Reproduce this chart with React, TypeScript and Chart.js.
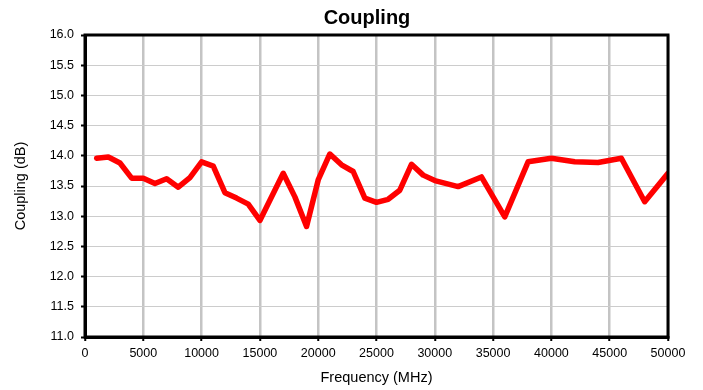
import React, { useEffect, useRef } from "react";
import { Chart, registerables } from "chart.js";

Chart.register(...registerables);

const frequencies = [
  1000, 2000, 3000, 4000, 5000, 6000, 7000, 8000, 9000, 10000,
  11000, 12000, 13000, 14000, 15000, 17000, 18000, 19000, 20000, 21000,
  22000, 23000, 24000, 25000, 26000, 27000, 28000, 29000, 30000, 32000,
  34000, 36000, 38000, 40000, 42000, 44000, 46000, 48000, 50000,
];
const coupling = [
  13.96, 13.98, 13.88, 13.63, 13.63, 13.54, 13.62, 13.48, 13.64, 13.9,
  13.83, 13.39, 13.3, 13.2, 12.93, 13.71, 13.32, 12.83, 13.6, 14.03,
  13.85, 13.74, 13.3, 13.23, 13.28, 13.43, 13.86, 13.68, 13.59, 13.49,
  13.65, 12.99, 13.9, 13.96, 13.9, 13.89, 13.96, 13.24, 13.71,
];
const chartTitle = "Coupling";
const xTitle = "Frequency (MHz)";
const yTitle = "Coupling (dB)";

const FONT = "'Liberation Sans', Arial, Helvetica, sans-serif";

export default function App() {
  const ref = useRef<HTMLCanvasElement | null>(null);

  useEffect(() => {
    document.body.style.margin = "0";
    const canvas = ref.current;
    if (!canvas) return;

    const framePlugin = {
      id: "frame",
      afterDraw(chart: any) {
        const { ctx, chartArea } = chart;
        ctx.save();
        ctx.strokeStyle = "#000";
        ctx.lineWidth = 3;
        ctx.strokeRect(
          chartArea.left,
          chartArea.top,
          chartArea.right - chartArea.left,
          chartArea.bottom - chartArea.top
        );
        ctx.fillStyle = "#000";
        ctx.font = `bold 20px ${FONT}`;
        ctx.textAlign = "center";
        ctx.textBaseline = "alphabetic";
        ctx.fillText(chartTitle, 367, 24);
        ctx.restore();
      },
    };

    const chart = new Chart(canvas, {
      type: "line",
      data: {
        datasets: [
          {
            data: frequencies.map((f, i) => ({ x: f, y: coupling[i] })),
            borderColor: "#ff0000",
            borderWidth: 5.5,
            pointRadius: 0,
            tension: 0,
            fill: false,
            borderJoinStyle: "round",
            borderCapStyle: "round",
          },
        ],
      },
      options: {
        animation: false,
        responsive: true,
        maintainAspectRatio: false,
        layout: { padding: { top: 35, right: 35, left: 0, bottom: 0 } },
        plugins: {
          legend: { display: false },
          title: { display: false },
          tooltip: { enabled: false },
        },
        scales: {
          x: {
            type: "linear",
            min: 0,
            max: 50000,
            afterFit: (scale: any) => {
              scale.height = 53;
            },
            ticks: {
              stepSize: 5000,
              color: "#000",
              font: { family: FONT, size: 12.5 },
              padding: 5,
              maxRotation: 0,
              callback: (v: any) => String(v),
            },
            grid: {
              color: "#c4c4c4",
              lineWidth: 2.5,
              tickColor: "#000",
              tickLength: 4,
              tickWidth: 2,
            },
            border: { color: "#000", width: 3 },
            title: {
              display: true,
              text: xTitle,
              color: "#000",
              font: { family: FONT, size: 14.5 },
              padding: { top: 0, bottom: 3 },
            },
          },
          y: {
            min: 11,
            max: 16,
            afterFit: (scale: any) => {
              scale.width = 85;
            },
            ticks: {
              stepSize: 0.5,
              color: "#000",
              font: { family: FONT, size: 12.5 },
              padding: 7,
              callback: (v: any) => Number(v).toFixed(1),
            },
            grid: {
              color: "#cccccc",
              lineWidth: 1,
              tickColor: "#000",
              tickLength: 4,
              tickWidth: 2,
            },
            border: { color: "#000", width: 3 },
            title: {
              display: true,
              text: yTitle,
              color: "#000",
              font: { family: FONT, size: 14.5 },
              padding: { top: 12, bottom: 0 },
            },
          },
        },
      },
      plugins: [framePlugin],
    } as any);

    return () => chart.destroy();
  }, []);

  return (
    <div style={{ position: "absolute", left: 0, top: 0, width: 703, height: 390 }}>
      <canvas ref={ref} />
    </div>
  );
}
